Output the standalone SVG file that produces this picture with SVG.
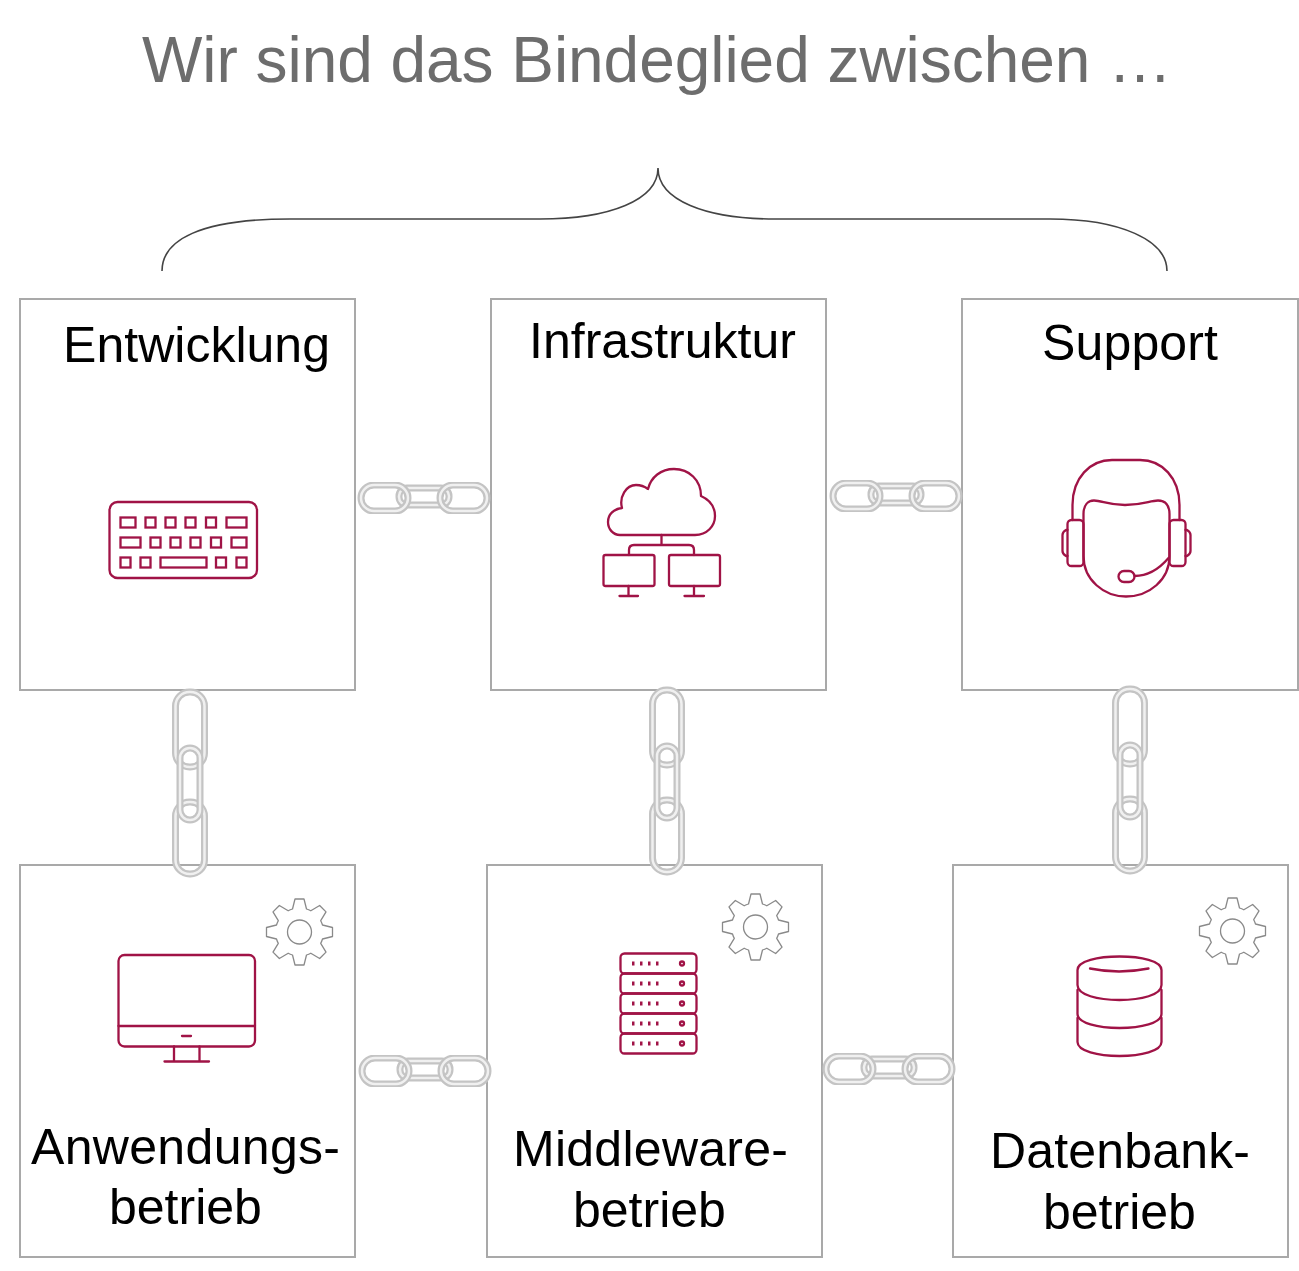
<svg xmlns="http://www.w3.org/2000/svg" width="1299" height="1271" viewBox="0 0 1299 1271">
<style>
text{font-family:"Liberation Sans",Arial,sans-serif;font-size:50px;fill:#000}
.title{font-size:64px;fill:#6d6d6d}
.box{fill:#fff;stroke:#a9a9a9;stroke-width:2}
.ic{fill:none;stroke:#a01346;stroke-width:2.3;stroke-linejoin:round;stroke-linecap:round}
.kk{fill:none;stroke:#a01346;stroke-width:2.3}
.dot{fill:#a01346;stroke:none}
.gear{fill:none;stroke:#8a8a8a;stroke-width:1.3;stroke-linejoin:round}
.brace{fill:none;stroke:#444;stroke-width:1.6}
.o{fill:none;stroke:#c4c4c4;stroke-width:7}
.i{fill:none;stroke:#f0f0f0;stroke-width:2.5}
</style>
<defs>
<filter id="soft" x="-10%" y="-10%" width="120%" height="120%"><feGaussianBlur stdDeviation="0.6"/></filter>
<g id="gear">
<path class="gear" d="M-7,-23 L-4.5,-33 H4.5 L7,-23 A24,24 0 0 1 11.31,-21.21 L20.15,-26.51 L26.51,-20.15 L21.21,-11.31 A24,24 0 0 1 23,-7 L33,-4.5 V4.5 L23,7 A24,24 0 0 1 21.21,11.31 L26.51,20.15 L20.15,26.51 L11.31,21.21 A24,24 0 0 1 7,23 L4.5,33 H-4.5 L-7,23 A24,24 0 0 1 -11.31,21.21 L-20.15,26.51 L-26.51,20.15 L-21.21,11.31 A24,24 0 0 1 -23,7 L-33,4.5 V-4.5 L-23,-7 A24,24 0 0 1 -21.21,-11.31 L-26.51,-20.15 L-20.15,-26.51 L-11.31,-21.21 A24,24 0 0 1 -7,-23 Z"/>
<circle class="gear" r="12"/>
</g>
<rect id="hl" x="-63" y="-12" width="47" height="26" rx="13"/>
<rect id="hr" x="16" y="-12" width="47" height="26" rx="13"/>
<rect id="hm" x="-25" y="-9" width="50" height="17" rx="8"/>
<rect id="vt" x="-14.500" y="-91" width="29" height="75" rx="14"/>
<rect id="vb" x="-14.500" y="19" width="29" height="72" rx="14"/>
<rect id="vm" x="-10" y="-35" width="20" height="72" rx="10"/>
<g id="chainH" filter="url(#soft)">
<use href="#hm" class="o"/><use href="#hm" class="i"/>
<use href="#hl" class="o"/><use href="#hl" class="i"/>
<use href="#hr" class="o"/><use href="#hr" class="i"/>
</g>
<g id="chainV" filter="url(#soft)">
<use href="#vt" class="o"/><use href="#vt" class="i"/>
<use href="#vb" class="o"/><use href="#vb" class="i"/>
<use href="#vm" class="o"/><use href="#vm" class="i"/>
</g>
</defs>
<text id="title" class="title" x="142" y="82" textLength="1030">Wir sind das Bindeglied zwischen …</text>
<g id="entwicklung">
<rect class="box" x="20" y="299" width="335" height="391"/>
<text x="63" y="362" textLength="267">Entwicklung</text>
<g class="kk">
<rect class="ic" x="109.500" y="502" width="147.500" height="76" rx="8"/>
<rect x="120.500" y="517.500" width="15" height="10"/><rect x="145.500" y="517.500" width="10" height="10"/><rect x="165.500" y="517.500" width="10" height="10"/><rect x="185.500" y="517.500" width="10" height="10"/><rect x="206" y="517.500" width="10" height="10"/><rect x="226.500" y="517.500" width="20" height="10"/>
<rect x="120.500" y="537.500" width="20" height="10"/><rect x="150.500" y="537.500" width="10" height="10"/><rect x="170.500" y="537.500" width="10" height="10"/><rect x="190.500" y="537.500" width="10" height="10"/><rect x="211" y="537.500" width="10" height="10"/><rect x="231.500" y="537.500" width="15" height="10"/>
<rect x="120.500" y="557.500" width="10" height="10"/><rect x="140.500" y="557.500" width="10" height="10"/><rect x="160.500" y="557.500" width="46" height="10"/><rect x="216" y="557.500" width="10" height="10"/><rect x="236.500" y="557.500" width="10" height="10"/>
</g>
</g>
<g id="infrastruktur">
<rect class="box" x="491" y="299" width="335" height="391"/>
<text x="529" y="358" textLength="267">Infrastruktur</text>
<g class="ic">
<path d="M620,535 H695 C707,535 715,526 715,516 C715,507 710,500 701,496 C701,480 689,469 674,469 C661,469 651,477 648,489 C644,486 640,485 636,485 C626,485 619,497 622,508 C614,509 608,514 608,522 C608,529 613,535 620,535 Z"/>
<path d="M661.500,535 V545 M629,555 V550 Q629,545 634,545 H689 Q694,545 694,550 V555"/>
<rect x="603.500" y="555" width="51" height="31" rx="2"/><rect x="669" y="555" width="51" height="31" rx="2"/>
<path d="M628.500,586 V596 M619.500,596 H638 M694,586 V596 M684.500,596 H704"/>
</g>
</g>
<g id="support">
<rect class="box" x="962" y="299" width="336" height="391"/>
<text x="1042" y="360" textLength="176">Support</text>
<g class="ic">
<path d="M1072.500,520 V505 C1072.500,478 1090,460 1112,460 H1140 C1162,460 1179.500,478 1179.500,505 V520"/>
<path d="M1083.500,556 V514 C1083.500,505 1088,500.500 1094,500.500 C1102,500.500 1108,505 1125,505 C1143,505 1150,500.500 1158,500.500 C1165,500.500 1169.500,505 1169.500,514 V556 C1169.500,580 1149,596.500 1126,596.500 C1104,596.500 1083.500,580 1083.500,556 Z"/>
<rect x="1067.500" y="520" width="16" height="46" rx="4"/><rect x="1169.500" y="520" width="16" height="46" rx="4"/>
<path d="M1067.500,530 H1066 Q1062.500,532 1062.500,535 V551 Q1062.500,554 1066,556 H1067.500 M1185.500,530 H1187 Q1190.500,532 1190.500,535 V551 Q1190.500,554 1187,556 H1185.500"/>
<rect x="1118.500" y="571" width="16" height="11" rx="5.500"/>
<path d="M1134.500,576 C1148,576 1160,568 1168.500,558"/>
</g>
</g>
<g id="anwendungsbetrieb">
<rect class="box" x="20" y="865" width="335" height="392"/>
<text x="31" y="1164" textLength="309">Anwendungs-</text>
<text x="109" y="1224">betrieb</text>
<use href="#gear" x="299.500" y="932"/>
<g class="ic">
<rect x="118.500" y="955" width="136.500" height="91.500" rx="6"/>
<path d="M118.500,1026 H255 M182,1036 H191 M174,1046.500 V1061.500 M199.500,1046.500 V1061.500 M164.500,1061.500 H209"/>
</g>
</g>
<g id="middlewarebetrieb">
<rect class="box" x="487" y="865" width="335" height="392"/>
<text x="513" y="1166" textLength="275">Middleware-</text>
<text x="573" y="1227">betrieb</text>
<use href="#gear" x="755.500" y="927"/>
<g class="ic">
<rect x="620.500" y="953.500" width="76" height="20" rx="4"/><rect x="620.500" y="973.500" width="76" height="20" rx="4"/><rect x="620.500" y="993.500" width="76" height="20" rx="4"/><rect x="620.500" y="1013.500" width="76" height="20" rx="4"/><rect x="620.500" y="1033.500" width="76" height="20" rx="4"/>
<circle cx="682" cy="963.500" r="2"/><circle cx="682" cy="983.500" r="2"/><circle cx="682" cy="1003.500" r="2"/><circle cx="682" cy="1023.500" r="2"/><circle cx="682" cy="1043.500" r="2"/>
</g>
<g class="dot">
<rect x="632" y="961.500" width="2.500" height="4"/><rect x="640" y="961.500" width="2.500" height="4"/><rect x="648" y="961.500" width="2.500" height="4"/><rect x="656" y="961.500" width="2.500" height="4"/>
<rect x="632" y="981.500" width="2.500" height="4"/><rect x="640" y="981.500" width="2.500" height="4"/><rect x="648" y="981.500" width="2.500" height="4"/><rect x="656" y="981.500" width="2.500" height="4"/>
<rect x="632" y="1001.500" width="2.500" height="4"/><rect x="640" y="1001.500" width="2.500" height="4"/><rect x="648" y="1001.500" width="2.500" height="4"/><rect x="656" y="1001.500" width="2.500" height="4"/>
<rect x="632" y="1021.500" width="2.500" height="4"/><rect x="640" y="1021.500" width="2.500" height="4"/><rect x="648" y="1021.500" width="2.500" height="4"/><rect x="656" y="1021.500" width="2.500" height="4"/>
<rect x="632" y="1041.500" width="2.500" height="4"/><rect x="640" y="1041.500" width="2.500" height="4"/><rect x="648" y="1041.500" width="2.500" height="4"/><rect x="656" y="1041.500" width="2.500" height="4"/>
</g>
</g>
<g id="datenbankbetrieb">
<rect class="box" x="953" y="865" width="335" height="392"/>
<text x="990" y="1168" textLength="260">Datenbank-</text>
<text x="1043" y="1229">betrieb</text>
<use href="#gear" x="1232.500" y="931"/>
<g class="ic">
<path d="M1077.500,970 C1077.500,961 1098,956.500 1119.500,956.500 C1141,956.500 1161.500,961 1161.500,970 V985 C1161.500,995 1141,1000 1119.500,1000 C1098,1000 1077.500,995 1077.500,985 Z"/>
<path d="M1077.500,990 V1014 C1077.500,1023 1098,1028 1119.500,1028 C1141,1028 1161.500,1023 1161.500,1014 V990"/>
<path d="M1077.500,1018 V1042 C1077.500,1051 1098,1056 1119.500,1056 C1141,1056 1161.500,1051 1161.500,1042 V1018"/>
<path d="M1090,968.500 Q1119,974.500 1148.500,968.500"/>
</g>
</g>
<g id="connectors">
<path id="brace" class="brace" d="M162,271 C162,240 200,219 290,219 H540 C610,219 658,200 658,168 C658,200 705,219 775,219 H1050 C1120,219 1167,240 1167,271"/>
<use href="#chainH" x="424" y="497"/>
<use href="#chainH" x="896" y="495"/>
<use href="#chainH" x="425" y="1070"/>
<use href="#chainH" x="889" y="1068"/>
<use href="#chainV" x="190" y="783"/>
<use href="#chainV" x="667" y="781"/>
<use href="#chainV" x="1130" y="780"/>
</g>
</svg>
